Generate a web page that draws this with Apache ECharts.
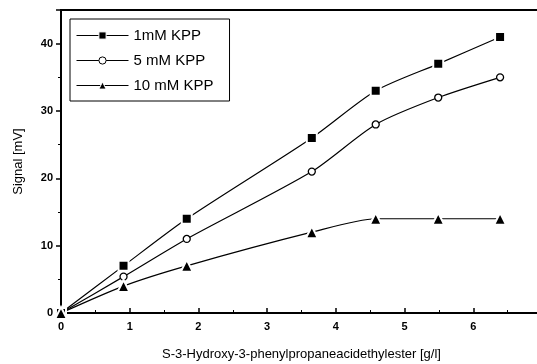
<!DOCTYPE html>
<html>
<head>
<meta charset="utf-8">
<script src="https://cdn.jsdelivr.net/npm/echarts@6/dist/echarts.min.js"></script>
<style>
  html, body { margin: 0; padding: 0; background: #fff; overflow: hidden; }
  #chart { width: 537px; height: 364px; }
</style>
</head>
<body>
<div id="chart"></div>
<script>
// Concentration of S-3-hydroxy-3-phenylpropaneacid ethyl ester [g/l]
const concentration = [0, 0.91, 1.83, 3.65, 4.58, 5.49, 6.39];
// Sensor signal [mV] for each KPP concentration
const signal1mM = [0, 7, 14, 26, 33, 37, 41];
const signal5mM = [0, 5.4, 11, 21, 28, 32, 35];
const signal10mM = [0, 4, 7, 12, 14, 14, 14];
const seriesNames = ['1mM KPP', '5 mM KPP', '10 mM KPP'];
const xTicks = [0, 1, 2, 3, 4, 5, 6, 7];
const yTicks = [0, 10, 20, 30, 40];

const pairs = (ys) => concentration.map((x, i) => [x, ys[i]]);
const font = 'Liberation Sans, Arial, Helvetica, sans-serif';

const chart = echarts.init(document.getElementById('chart'), null, { renderer: 'canvas' });

function lineSeries(name, ys, symbol, size, filled) {
  return {
    name: name,
    type: 'line',
    data: pairs(ys),
    smooth: 0.25,
    symbol: symbol,
    symbolSize: size,
    showAllSymbol: true,
    lineStyle: { color: '#000', width: 1.2 },
    itemStyle: filled
      ? { color: '#000', borderColor: '#fff', borderWidth: 2 }
      : { color: '#fff', borderColor: '#000', borderWidth: 1.3 },
    z: 3
  };
}

chart.setOption({
  animation: false,
  backgroundColor: '#fff',
  grid: {
    left: 61, width: 481, top: 10, height: 303,
    outerBoundsMode: 'none', containLabel: false,
    show: true, borderColor: '#000', borderWidth: 2
  },
  legend: {
    left: 70, top: 19,
    orient: 'vertical',
    data: seriesNames,
    itemWidth: 52, itemHeight: 9, itemGap: 10,
    padding: [9, 16, 8, 6],
    borderColor: '#000', borderWidth: 1,
    backgroundColor: '#fff',
    lineStyle: { width: 1 },
    itemStyle: { borderWidth: 1 },
    textStyle: { fontFamily: font, fontSize: 15, color: '#000' }
  },
  xAxis: {
    type: 'value',
    min: 0, max: 7, interval: 1,
    name: 'S-3-Hydroxy-3-phenylpropaneacidethylester [g/l]',
    nameLocation: 'middle', nameGap: 35,
    nameTextStyle: { fontFamily: font, fontSize: 13, color: '#000' },
    axisLine: { lineStyle: { color: '#000', width: 2 } },
    axisTick: { inside: true, length: 5, lineStyle: { color: '#000', width: 1.5 } },
    minorTick: { show: true, splitNumber: 2, length: 3, lineStyle: { color: '#000' } },
    axisLabel: {
      fontFamily: font, fontSize: 11, fontWeight: 'bold', color: '#000', margin: 8,
      formatter: (v) => xTicks.includes(v) ? String(v) : ''
    },
    splitLine: { show: false }
  },
  yAxis: {
    type: 'value',
    min: 0, max: 45, interval: 10,
    name: 'Signal [mV]',
    nameLocation: 'middle', nameGap: 36,
    nameTextStyle: { fontFamily: font, fontSize: 13, color: '#000' },
    axisLine: { show: true, lineStyle: { color: '#000', width: 2 } },
    axisTick: { show: true, length: 5, lineStyle: { color: '#000', width: 1.5 } },
    minorTick: { show: true, splitNumber: 2, length: 3, lineStyle: { color: '#000' } },
    axisLabel: {
      fontFamily: font, fontSize: 11, fontWeight: 'bold', color: '#000', margin: 8,
      formatter: (v) => yTicks.includes(v) ? String(v) : ''
    },
    splitLine: { show: false }
  },
  series: [
    lineSeries(seriesNames[0], signal1mM, 'rect', 10, true),
    lineSeries(seriesNames[1], signal5mM, 'circle', 7, false),
    lineSeries(seriesNames[2], signal10mM, 'triangle', 12, true)
  ]
});
</script>
</body>
</html>
